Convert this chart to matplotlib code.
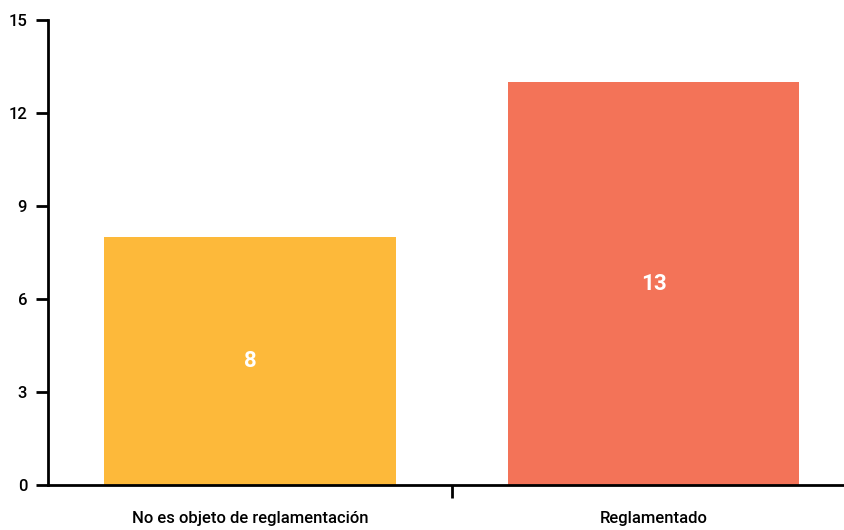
import matplotlib
matplotlib.use("Agg")
import matplotlib.pyplot as plt
from matplotlib import font_manager

categories = ["No es objeto de reglamentación", "Reglamentado"]
values = [8, 13]
colors = ["#FDB93A", "#F37358"]
yticks = [0, 3, 6, 9, 12, 15]

names = {f.name for f in font_manager.fontManager.ttflist}
fam = [f for f in ["Liberation Sans Narrow", "Roboto", "DejaVu Sans"] if f in names]
plt.rcParams['font.family'] = fam

fig = plt.figure(figsize=(8.44, 5.30), dpi=100)
ax = fig.add_axes([48/844, 45/530, (855.5-48)/844, 465/530])
x = list(range(len(categories)))
bars = ax.bar(x, values, width=0.722, color=colors)
for xi, v in zip(x, values):
    ax.text(xi, v/2, str(v), ha="center", va="center", color="white",
            fontsize=16, fontweight="bold")
ax.set_xlim(-0.5, 1.5)
ax.set_ylim(0, 15)
ax.set_yticks(yticks)
ax.set_xticks(x)
ax.set_xticklabels(categories, fontsize=12, fontweight="medium")
ax.set_xticks([0.5], minor=True)
ax.tick_params(axis="x", which="major", length=0, pad=19)
ax.tick_params(axis="x", which="minor", length=9, width=2)
ax.tick_params(axis="y", length=9, width=2, labelsize=12, pad=6)
for lbl in ax.get_yticklabels():
    lbl.set_fontweight("medium")
for s in ["top", "right"]:
    ax.spines[s].set_visible(False)
for s in ["left", "bottom"]:
    ax.spines[s].set_linewidth(2)
fig.savefig("out.png", dpi=100)
